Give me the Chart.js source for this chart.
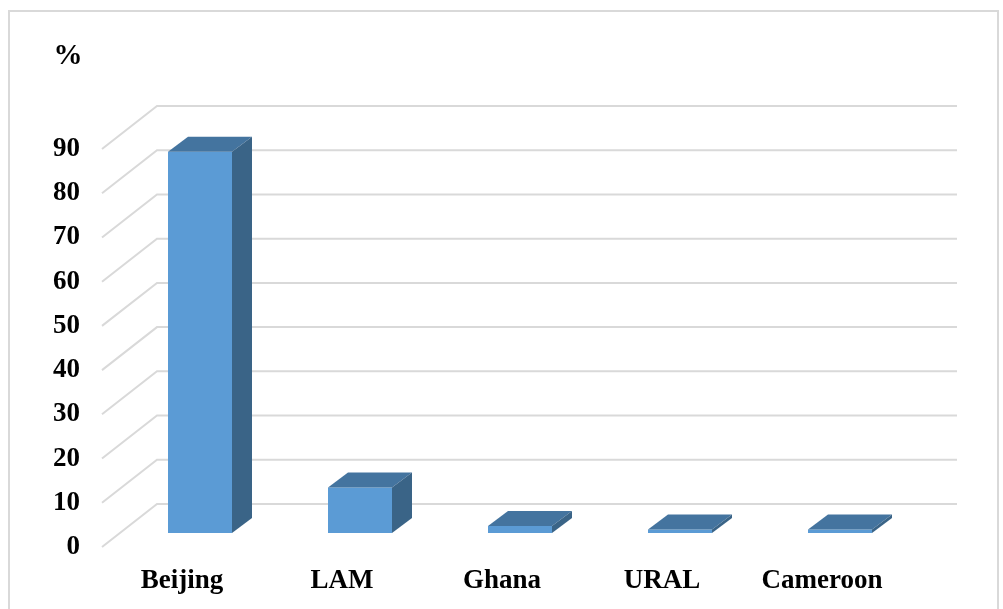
<!DOCTYPE html>
<html>
<head>
<meta charset="utf-8">
<script src="https://cdn.jsdelivr.net/npm/chart.js@4"></script>
<style>
  body { margin: 0; background: #fff; }
</style>
</head>
<body>
<canvas id="chart" width="1003" height="609"></canvas>
<script>
// datos del gráfico
const categories = ['Beijing', 'LAM', 'Ghana', 'URAL', 'Cameroon'];
const percentValues = [86.2, 10.3, 1.6, 0.8, 0.8];
const yTicks = [0, 10, 20, 30, 40, 50, 60, 70, 80, 90];

const FONT = '"Liberation Serif", "Times New Roman", serif';

// pared del fondo y caras laterales para imitar el 3D
const wallDx = 37, wallDy = -29;   // desde el plano de las barras hasta la pared
const floorDx = -18, floorDy = 14; // desde el plano de las barras hasta el frente
const barDx = 20, barDy = -15;     // profundidad de cada barra

const pseudo3d = {
    id: 'pseudo3d',
    beforeDraw(chart) {
        const ctx = chart.ctx;
        ctx.save();
        ctx.strokeStyle = '#d9d9d9';
        ctx.lineWidth = 2;
        ctx.strokeRect(9, 11, 989, 620);
        ctx.fillStyle = '#000';
        ctx.font = 'bold 29px ' + FONT;
        ctx.textAlign = 'center';
        ctx.textBaseline = 'middle';
        ctx.fillText('%', 68, 57);
        ctx.restore();
    },
    beforeDatasetsDraw(chart) {
        const ctx = chart.ctx;
        const area = chart.chartArea;
        const y = chart.scales.y;
        ctx.save();
        ctx.strokeStyle = '#d9d9d9';
        ctx.lineWidth = 2;
        yTicks.forEach(v => {
            const py = y.getPixelForValue(v);
            ctx.beginPath();
            ctx.moveTo(area.left + floorDx, py + floorDy);
            ctx.lineTo(area.left + wallDx, py + wallDy);
            ctx.lineTo(area.right + wallDx, py + wallDy);
            ctx.stroke();
        });
        ctx.restore();
    },
    afterDatasetsDraw(chart) {
        const ctx = chart.ctx;
        ctx.save();
        chart.getDatasetMeta(0).data.forEach(bar => {
            const left = bar.x - bar.width / 2;
            const right = bar.x + bar.width / 2;
            // cara superior
            ctx.fillStyle = '#44749f';
            ctx.beginPath();
            ctx.moveTo(left, bar.y);
            ctx.lineTo(right, bar.y);
            ctx.lineTo(right + barDx, bar.y + barDy);
            ctx.lineTo(left + barDx, bar.y + barDy);
            ctx.closePath();
            ctx.fill();
            // cara lateral
            ctx.fillStyle = '#3a6487';
            ctx.beginPath();
            ctx.moveTo(right, bar.y);
            ctx.lineTo(right + barDx, bar.y + barDy);
            ctx.lineTo(right + barDx, bar.base + barDy);
            ctx.lineTo(right, bar.base);
            ctx.closePath();
            ctx.fill();
        });
        ctx.restore();
    }
};

const ctx = document.getElementById('chart').getContext('2d');
new Chart(ctx, {
    type: 'bar',
    data: {
        labels: categories,
        datasets: [{
            data: percentValues,
            backgroundColor: '#5b9bd5',
            borderWidth: 0,
            barPercentage: 0.4,
            categoryPercentage: 1
        }]
    },
    options: {
        responsive: false,
        animation: false,
        layout: { padding: { left: 10, top: 135, right: 83, bottom: 0 } },
        plugins: {
            legend: { display: false },
            tooltip: { enabled: false }
        },
        scales: {
            x: {
                grid: { display: false, drawTicks: false },
                border: { display: false },
                ticks: {
                    color: '#000',
                    font: { family: FONT, size: 27, weight: 'bold' },
                    padding: 32,
                    labelOffset: floorDx,
                    maxRotation: 0
                },
                afterFit(scale) { scale.height = 76; }
            },
            y: {
                min: 0,
                max: 90,
                grid: { display: false, drawTicks: false },
                border: { display: false },
                ticks: {
                    stepSize: 10,
                    color: '#000',
                    font: { family: FONT, size: 27, weight: 'bold' },
                    padding: 40,
                    labelOffset: floorDy
                },
                afterFit(scale) { scale.width = 110; }
            }
        }
    },
    plugins: [pseudo3d]
});
</script>
</body>
</html>
